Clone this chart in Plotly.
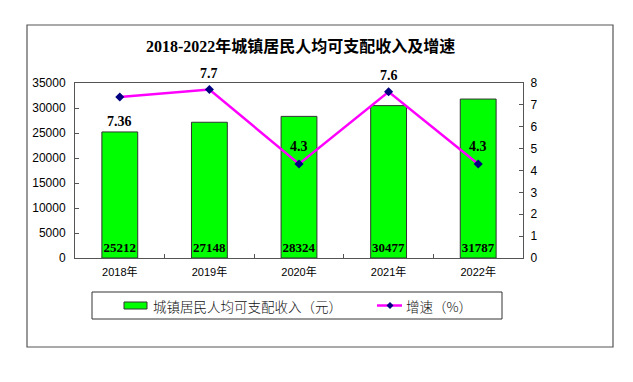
import plotly.graph_objects as go

years = ["2018年", "2019年", "2020年", "2021年", "2022年"]
income = [25212, 27148, 28324, 30477, 31787]
growth = [7.36, 7.7, 4.3, 7.6, 4.3]
growth_text = ["7.36", "7.7", "4.3", "7.6", "4.3"]
label_shift = [-24, 16, 17, 16, 17]

title_text = "2018-2022年城镇居民人均可支配收入及增速"
bar_name = "城镇居民人均可支配收入（元）"
line_name = "增速（%）"

bar_color = "#00FF00"
line_color = "#FF00FF"
marker_color = "#000080"

OFF = 8  # default body margin of the html page
W, H = 633 - OFF, 382 - OFF
L, R, T, B = 75 - OFF, 523 - OFF, 83 - OFF, 258 - OFF
pw, ph = R - L, B - T


def px(x):
    return (x - OFF - L) / pw


def py(y):
    return (B - (y - OFF)) / ph


num_font = "Liberation Sans, Arial, sans-serif"
serif_font = "Liberation Serif, Noto Sans CJK SC, serif"
cjk_font = "Noto Sans CJK SC, sans-serif"
axis_col = "#555555"

fig = go.Figure()
fig.add_trace(go.Bar(
    x=years, y=income, name=bar_name,
    marker=dict(color=bar_color, line=dict(color="#333333", width=1)),
    width=0.4,
    text=[str(v) for v in income],
    textposition="inside", insidetextanchor="start",
    textfont=dict(family=serif_font, size=13, color="black", weight="bold"),
    textangle=0,
    yaxis="y",
))
fig.add_trace(go.Scatter(
    x=years, y=growth, name=line_name, mode="lines+markers",
    line=dict(color=line_color, width=2.5),
    marker=dict(symbol="diamond", size=7, color=marker_color),
    yaxis="y2",
))

annotations = []
for yr, g, t, s in zip(years, growth, growth_text, label_shift):
    annotations.append(dict(
        x=yr, y=g, xref="x", yref="y2", text=t, showarrow=False,
        yshift=s, font=dict(family=serif_font, size=14, color="black", weight=600),
    ))
annotations.append(dict(
    x=px(300), y=py(46), xref="paper", yref="paper", text="<b>" + title_text + "</b>",
    showarrow=False, font=dict(family=serif_font, size=16, color="black"),
    xanchor="center", yanchor="middle",
))

# manual legend (decoration only)
leg_y = 305.5
annotations.append(dict(
    x=px(151), y=py(leg_y), xref="paper", yref="paper", text=bar_name,
    showarrow=False, xanchor="left", yanchor="middle",
    font=dict(family=cjk_font, size=13.5, color="#111111", weight=300),
))
annotations.append(dict(
    x=px(404), y=py(leg_y), xref="paper", yref="paper", text=line_name,
    showarrow=False, xanchor="left", yanchor="middle",
    font=dict(family=cjk_font, size=13.5, color="#111111", weight=300),
))

dx, dy = 3.5 / pw, 3.5 / ph
cx, cy = px(390), py(leg_y)
diamond = (f"M {cx - dx},{cy} L {cx},{cy + dy} L {cx + dx},{cy} "
           f"L {cx},{cy - dy} Z")

shapes = [
    dict(type="rect", xref="paper", yref="paper",
         x0=px(27), x1=px(613), y0=py(25), y1=py(347),
         line=dict(color="#555555", width=1.2), fillcolor="rgba(0,0,0,0)", layer="below"),
    dict(type="rect", xref="paper", yref="paper",
         x0=px(92), x1=px(502), y0=py(292), y1=py(319),
         line=dict(color="#333333", width=1), fillcolor="rgba(0,0,0,0)"),
    dict(type="rect", xref="paper", yref="paper",
         x0=px(124), x1=px(147), y0=py(302), y1=py(309),
         line=dict(color="#333333", width=1), fillcolor=bar_color),
    dict(type="line", xref="paper", yref="paper",
         x0=px(377), x1=px(402), y0=py(leg_y), y1=py(leg_y),
         line=dict(color=line_color, width=2.5)),
    dict(type="path", xref="paper", yref="paper", path=diamond,
         line=dict(color=marker_color, width=0), fillcolor=marker_color),
]

fig.update_layout(
    width=W, height=H,
    margin=dict(l=L, r=W - R, t=T, b=H - B, pad=0),
    paper_bgcolor="white", plot_bgcolor="white",
    showlegend=False,
    uniformtext=dict(minsize=13, mode="show"),
    xaxis=dict(type="category", showgrid=False, showline=True, linecolor=axis_col,
               linewidth=1, mirror=True, ticks="inside", tickson="boundaries", ticklen=4,
               tickcolor=axis_col, ticklabelstandoff=4,
               tickfont=dict(family=num_font + ", Noto Sans CJK SC", size=11, color="black"),
               range=[-0.5, 4.5]),
    yaxis=dict(range=[0, 35000], dtick=5000, tickformat="d", showgrid=False, showline=True,
               linecolor=axis_col, linewidth=1, ticks="inside", ticklen=4,
               tickcolor=axis_col, zeroline=False, ticklabelstandoff=6,
               tickfont=dict(family=num_font, size=12, color="black")),
    yaxis2=dict(range=[0, 8], dtick=1, overlaying="y", side="right", showgrid=False,
                showline=True, linecolor=axis_col, linewidth=1, ticks="inside",
                ticklen=4, tickcolor=axis_col, zeroline=False, ticklabelstandoff=4,
                tickfont=dict(family=num_font, size=12, color="black")),
    annotations=annotations,
    shapes=shapes,
)

fig.write_html("out.html")
